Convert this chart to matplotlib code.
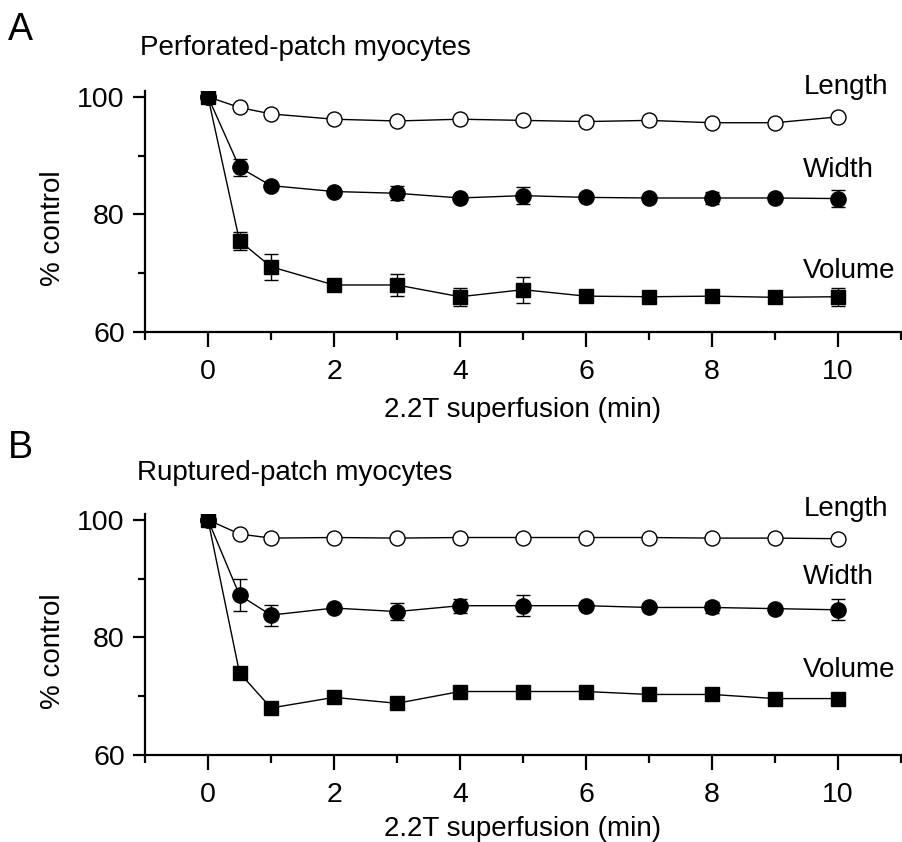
import matplotlib
matplotlib.use("Agg")
import matplotlib.pyplot as plt
import numpy as np

plt.rcParams['font.family'] = ['Liberation Sans', 'DejaVu Sans']

# ---------------- data ----------------
time = [0, 0.5, 1, 2, 3, 4, 5, 6, 7, 8, 9, 10]

A_length = [100, 98.2, 97.1, 96.2, 95.9, 96.2, 96.0, 95.8, 96.0, 95.6, 95.6, 96.6]
A_length_err = [0, 0, 0, 0, 0, 0, 0, 0, 0, 0, 0, 0]
A_width = [100, 88.0, 84.9, 83.9, 83.6, 82.8, 83.2, 82.9, 82.8, 82.8, 82.8, 82.7]
A_width_err = [0, 1.4, 0, 0, 1.2, 0, 1.5, 0, 0, 1.1, 0, 1.5]
A_volume = [100, 75.5, 71.1, 68.0, 68.0, 66.0, 67.2, 66.1, 66.0, 66.1, 65.9, 66.0]
A_volume_err = [0, 1.5, 2.2, 1.1, 1.8, 1.5, 2.2, 0, 0, 0, 0, 1.5]

B_length = [100, 97.6, 96.9, 97.0, 96.9, 97.0, 97.0, 97.0, 97.0, 96.9, 96.9, 96.8]
B_length_err = [0, 0, 0, 0, 0, 0, 0, 0, 0, 0, 0, 0]
B_width = [100, 87.2, 83.8, 85.0, 84.4, 85.4, 85.4, 85.4, 85.1, 85.1, 84.9, 84.7]
B_width_err = [0, 2.7, 1.8, 0, 1.5, 1.2, 1.8, 0, 0, 1.0, 0, 1.8]
B_volume = [100, 74.0, 68.0, 69.8, 68.8, 70.8, 70.8, 70.8, 70.3, 70.3, 69.6, 69.6]
B_volume_err = [0, 0, 0, 0, 0, 0, 0, 0, 0, 0, 0, 0]

panel_letters = ["A", "B"]
panel_titles = ["Perforated-patch myocytes", "Ruptured-patch myocytes"]
series_names = ["Length", "Width", "Volume"]
xlabel = "2.2T superfusion (min)"
ylabel = "% control"
xticks_major = [0, 2, 4, 6, 8, 10]
xticks_minor = [-1, 1, 3, 5, 7, 9, 11]
yticks_major = [60, 80, 100]
yticks_minor = [70, 90]

# label positions (data coords) for the series names
A_label_y = [101.6, 87.6, 70.4]
B_label_y = [101.9, 90.3, 74.5]
label_x = 9.45

# ---------------- figure ----------------
W, H = 902, 842
fig = plt.figure(figsize=(W / 100, H / 100), dpi=100)

def fx(px):
    return px / W

def fy(py):
    return 1 - py / H

FS = 20
ax_left, ax_right = 145, 901
axA = fig.add_axes([fx(ax_left), fy(332), fx(ax_right - ax_left), (332 - 91) / H])
axB = fig.add_axes([fx(ax_left), fy(755), fx(ax_right - ax_left), (755 - 514) / H])

panels = [
    (axA, [A_length, A_width, A_volume], [A_length_err, A_width_err, A_volume_err], A_label_y),
    (axB, [B_length, B_width, B_volume], [B_length_err, B_width_err, B_volume_err], B_label_y),
]

styles = [
    dict(marker='o', mfc='white', mec='black', ms=10.8, mew=1.0),
    dict(marker='o', mfc='black', mec='black', ms=11.0, mew=1.0),
    dict(marker='s', mfc='black', mec='black', ms=9.8, mew=1.0),
]

for ax, series, errs, lab_y in panels:
    for i, (vals, err, st) in enumerate(zip(series, errs, styles)):
        t = [tt for tt, e in zip(time, err) if e > 0]
        v = [vv for vv, e in zip(vals, err) if e > 0]
        e = [ee for ee in err if ee > 0]
        if t:
            ax.errorbar(t, v, yerr=e, fmt='none', ecolor='black',
                        elinewidth=1.0, capsize=4.8, capthick=1.0, zorder=2 + i)
        ax.plot(time, vals, color='black', lw=1.0, zorder=2.5 + i, **st)
    for name, ly in zip(series_names, lab_y):
        ax.text(label_x, ly, name, fontsize=FS, ha='left', va='center', clip_on=False)

    ax.set_xlim(-1, 11)
    ax.set_ylim(60, 101)
    for s in ['top', 'right']:
        ax.spines[s].set_visible(False)
    for s in ['left', 'bottom']:
        ax.spines[s].set_linewidth(1.6)
    ax.set_xticks(xticks_major)
    ax.set_xticks(xticks_minor, minor=True)
    ax.set_yticks(yticks_major)
    ax.set_yticks(yticks_minor, minor=True)
    ax.tick_params(axis='x', which='major', direction='out', length=10.5, width=1.6,
                   labelsize=FS + 0.5, pad=9)
    ax.tick_params(axis='x', which='minor', direction='out', length=5.5, width=1.6)
    ax.tick_params(axis='y', which='major', direction='out', length=8.5, width=1.6,
                   labelsize=FS + 0.5, pad=6)
    ax.tick_params(axis='y', which='minor', direction='out', length=5, width=1.6)

# panel letters, titles, axis labels
fig.text(fx(8), fy(40), panel_letters[0], fontsize=27, ha='left', va='baseline')
fig.text(fx(8), fy(458), panel_letters[1], fontsize=27, ha='left', va='baseline')
fig.text(fx(140), fy(55), panel_titles[0], fontsize=FS, ha='left', va='baseline')
fig.text(fx(137), fy(480), panel_titles[1], fontsize=FS, ha='left', va='baseline')
xc = (ax_left + ax_right) / 2
fig.text(fx(xc), fy(417), xlabel, fontsize=FS, ha='center', va='baseline')
fig.text(fx(xc), fy(836), xlabel, fontsize=FS, ha='center', va='baseline')
fig.text(fx(53), fy(228), ylabel, fontsize=FS, ha='center', va='center', rotation=90)
fig.text(fx(53), fy(651), ylabel, fontsize=FS, ha='center', va='center', rotation=90)

fig.savefig("out.png", dpi=100)
